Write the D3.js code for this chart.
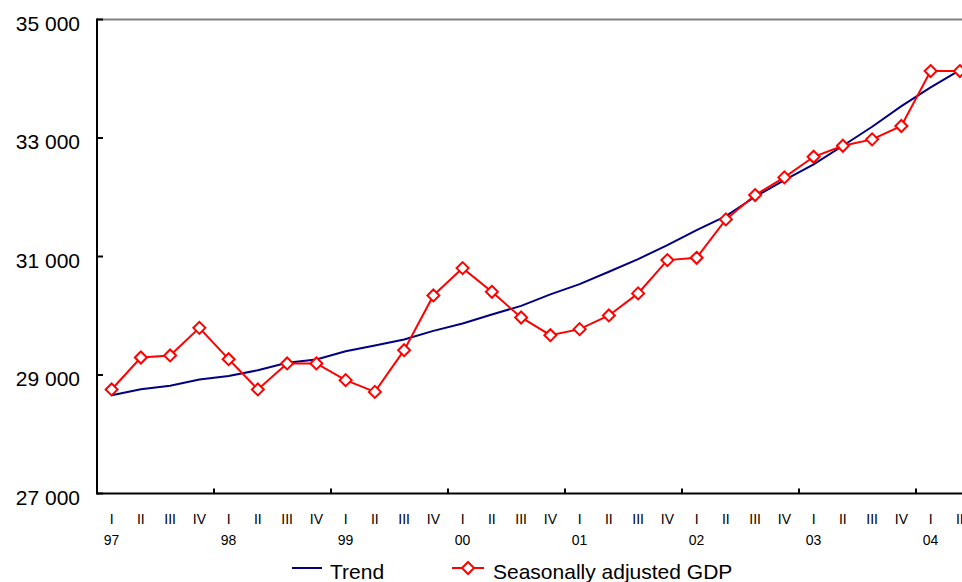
<!DOCTYPE html>
<html>
<head>
<meta charset="utf-8">
<script src="https://cdn.jsdelivr.net/npm/d3@7"></script>
<style>
  html, body { margin: 0; padding: 0; background: #fff; }
  svg { display: block; font-family: "Liberation Sans", Arial, sans-serif; }
</style>
</head>
<body>
<svg id="chart" width="962" height="582"></svg>
<script>
// Quarterly GDP, 1997 Q1 to 2004 Q2
const years = ["97", "98", "99", "00", "01", "02", "03", "04"];
const quarterNames = ["I", "II", "III", "IV"];
const periods = [
  "97 I", "97 II", "97 III", "97 IV",
  "98 I", "98 II", "98 III", "98 IV",
  "99 I", "99 II", "99 III", "99 IV",
  "00 I", "00 II", "00 III", "00 IV",
  "01 I", "01 II", "01 III", "01 IV",
  "02 I", "02 II", "02 III", "02 IV",
  "03 I", "03 II", "03 III", "03 IV",
  "04 I", "04 II"
];
const trend = [
  28660, 28760, 28820, 28925, 28985, 29080, 29205, 29262,
  29400, 29498, 29600, 29745, 29870, 30022, 30167, 30360,
  30534, 30742, 30956, 31192, 31445, 31682, 32008, 32290,
  32555, 32869, 33190, 33539, 33855, 34147
];
const seasonallyAdjusted = [
  28756, 29296, 29330, 29796, 29267, 28756, 29195, 29195,
  28913, 28715, 29419, 30343, 30804, 30404, 29971, 29672,
  29774, 30005, 30377, 30939, 30978, 31626, 32037, 32335,
  32683, 32869, 32977, 33202, 34130, 34130
];
const yTicks = [27000, 29000, 31000, 33000, 35000];

const svg = d3.select("#chart");

const plotLeft = 97, plotTop = 19.5, plotBottom = 493.5;
const bandW = 29.25;

const x = d3.scaleBand()
  .domain(periods)
  .range([plotLeft, plotLeft + bandW * periods.length])
  .paddingInner(0).paddingOuter(0);
const cx = p => x(p) + x.bandwidth() / 2;

const y = d3.scaleLinear().domain([27000, 35000]).range([plotBottom, plotTop]);
const fmt = v => d3.format(",")(v).replace(/,/g, " ");

// top frame line
svg.append("line")
  .attr("x1", plotLeft).attr("x2", 962)
  .attr("y1", y(35000)).attr("y2", y(35000))
  .attr("stroke", "#808080").attr("stroke-width", 2);

// y axis
const yAxis = svg.append("g");
yAxis.append("line")
  .attr("x1", plotLeft).attr("x2", plotLeft)
  .attr("y1", y(35000) - 1).attr("y2", plotBottom + 1)
  .attr("stroke", "#000").attr("stroke-width", 2);
yAxis.selectAll("line.tick").data(yTicks).join("line")
  .attr("class", "tick")
  .attr("x1", plotLeft).attr("x2", plotLeft + 6)
  .attr("y1", d => y(d)).attr("y2", d => y(d))
  .attr("stroke", "#000").attr("stroke-width", 2);
yAxis.selectAll("text").data(yTicks).join("text")
  .attr("x", 80).attr("y", d => y(d) + 11)
  .attr("text-anchor", "end")
  .attr("font-size", 21)
  .attr("fill", "#000")
  .text(fmt);

// x axis
const xAxis = svg.append("g");
xAxis.append("line")
  .attr("x1", plotLeft).attr("x2", 962)
  .attr("y1", plotBottom).attr("y2", plotBottom)
  .attr("stroke", "#000").attr("stroke-width", 2);
const yearStarts = periods.filter((p, i) => i % 4 === 0 && i > 0);
xAxis.selectAll("line.tick").data(yearStarts).join("line")
  .attr("class", "tick")
  .attr("x1", d => x(d)).attr("x2", d => x(d))
  .attr("y1", plotBottom).attr("y2", plotBottom - 5)
  .attr("stroke", "#000").attr("stroke-width", 2);
xAxis.selectAll("text.q").data(periods).join("text")
  .attr("class", "q")
  .attr("x", d => cx(d)).attr("y", 524)
  .attr("text-anchor", "middle")
  .attr("font-size", 14)
  .text(d => d.split(" ")[1]);
xAxis.selectAll("text.yr").data(years).join("text")
  .attr("class", "yr")
  .attr("x", d => cx(d + " I")).attr("y", 545)
  .attr("text-anchor", "middle")
  .attr("font-size", 14)
  .text(d => d);

// series
const line = d3.line().x((d, i) => cx(periods[i])).y(d => y(d));

svg.append("path")
  .datum(trend)
  .attr("d", line)
  .attr("fill", "none")
  .attr("stroke", "#000080")
  .attr("stroke-width", 2);

svg.append("path")
  .datum(seasonallyAdjusted)
  .attr("d", line)
  .attr("fill", "none")
  .attr("stroke", "#ff0000")
  .attr("stroke-width", 2);

const diamond = (r) => `M0,${-r}L${r},0L0,${r}L${-r},0Z`;
svg.selectAll("path.marker").data(seasonallyAdjusted).join("path")
  .attr("class", "marker")
  .attr("transform", (d, i) => `translate(${cx(periods[i])},${y(d)})`)
  .attr("d", diamond(6))
  .attr("fill", "#fff")
  .attr("stroke", "#ff0000")
  .attr("stroke-width", 2);

// legend
const legend = svg.append("g");
const ly = 568;
legend.append("line")
  .attr("x1", 292).attr("x2", 322).attr("y1", ly).attr("y2", ly)
  .attr("stroke", "#000080").attr("stroke-width", 2);
legend.append("text")
  .attr("x", 330).attr("y", ly + 10.5)
  .attr("font-size", 21).text("Trend");
legend.append("line")
  .attr("x1", 452).attr("x2", 484).attr("y1", ly).attr("y2", ly)
  .attr("stroke", "#ff0000").attr("stroke-width", 2);
legend.append("path")
  .attr("transform", `translate(468,${ly})`)
  .attr("d", diamond(6))
  .attr("fill", "#fff").attr("stroke", "#ff0000").attr("stroke-width", 2);
legend.append("text")
  .attr("x", 493).attr("y", ly + 10.5)
  .attr("font-size", 21).text("Seasonally adjusted GDP");
</script>
</body>
</html>
